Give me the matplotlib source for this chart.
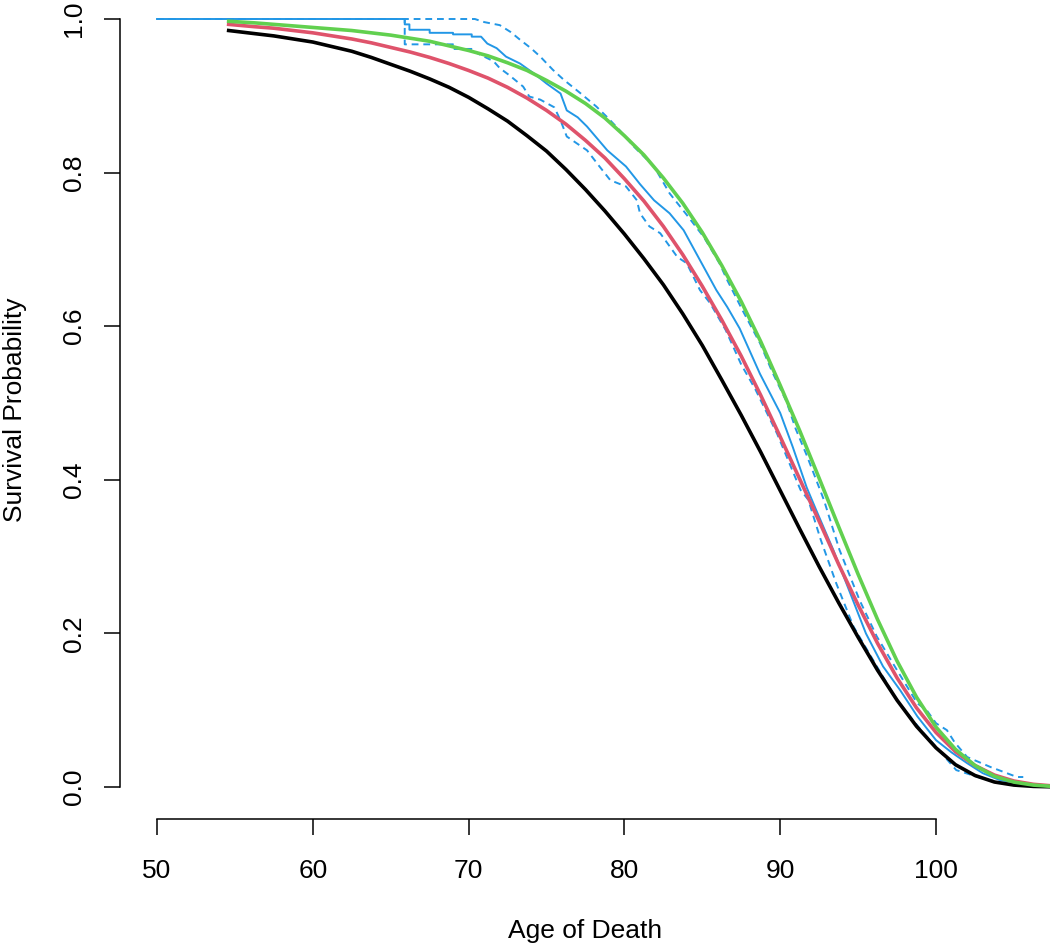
import matplotlib
matplotlib.use("Agg")
import matplotlib.pyplot as plt

plt.rcParams['font.family'] = ['Liberation Sans', 'DejaVu Sans']

# ---- data ----
ages_fit = [54.6, 56.25, 57.5, 58.75, 60, 61.25, 62.5, 63.75, 65, 66.25, 67.5,
            68.75, 70, 71.25, 72.5, 73.75, 75, 76.25, 77.5, 78.75, 80, 81.25,
            82.5, 83.75, 85, 86.25, 87.5, 88.75, 90, 91.25, 92.5, 93.75, 95,
            96.25, 97.5, 98.75, 100, 101.25, 102.5, 103.75, 105, 106.25, 107.3]
surv_black = [0.985, 0.981, 0.978, 0.974, 0.970, 0.964, 0.958, 0.950, 0.941,
              0.932, 0.922, 0.911, 0.898, 0.883, 0.867, 0.848, 0.828, 0.804,
              0.778, 0.750, 0.720, 0.688, 0.654, 0.616, 0.575, 0.530, 0.484,
              0.436, 0.386, 0.336, 0.287, 0.240, 0.195, 0.152, 0.113, 0.079,
              0.051, 0.029, 0.015, 0.0065, 0.0025, 0.0008, 0.0003]
surv_red = [0.993, 0.990, 0.988, 0.985, 0.982, 0.978, 0.974, 0.969, 0.963,
            0.957, 0.950, 0.942, 0.933, 0.923, 0.911, 0.897, 0.881, 0.863,
            0.842, 0.819, 0.792, 0.763, 0.730, 0.693, 0.652, 0.608, 0.561,
            0.510, 0.456, 0.401, 0.346, 0.290, 0.237, 0.187, 0.142, 0.103,
            0.071, 0.046, 0.028, 0.0155, 0.0078, 0.0035, 0.0017]
surv_green = [0.997, 0.995, 0.993, 0.991, 0.989, 0.987, 0.985, 0.982, 0.979,
              0.975, 0.971, 0.965, 0.959, 0.952, 0.943, 0.933, 0.920, 0.906,
              0.890, 0.871, 0.848, 0.823, 0.793, 0.760, 0.722, 0.679, 0.632,
              0.580, 0.523, 0.464, 0.402, 0.339, 0.277, 0.218, 0.164, 0.117,
              0.078, 0.049, 0.028, 0.014, 0.0064, 0.0025, 0.001]

km_age = [50.0, 65.9, 65.9, 66.2, 66.2, 67.5, 67.5, 69.0, 69.0, 70.2, 70.2,
          70.8, 71.2, 71.8, 72.4, 73.3, 74.2, 75.0, 75.9, 76.3, 77.0, 77.6,
          78.9, 80.1, 81.0, 81.9, 82.9, 83.8, 84.85, 85.9, 86.6, 87.4, 88.7,
          90.0, 90.8, 91.7, 92.3, 93.4, 94.5, 95.5, 96.6, 97.7, 98.8, 100.0,
          101.0, 102.0, 103.0, 104.1, 105.2]
km_surv = [1.0, 1.0, 0.993, 0.993, 0.986, 0.986, 0.982, 0.982, 0.980, 0.980,
           0.977, 0.977, 0.968, 0.962, 0.951, 0.942, 0.929, 0.916, 0.903, 0.881,
           0.872, 0.860, 0.829, 0.808, 0.785, 0.764, 0.747, 0.725, 0.686, 0.647,
           0.625, 0.597, 0.538, 0.487, 0.443, 0.390, 0.361, 0.309, 0.252, 0.200,
           0.157, 0.126, 0.092, 0.061, 0.045, 0.031, 0.018, 0.009, 0.005]

up_age = [50.0, 70.4, 71.0, 72.0, 72.7, 73.3, 74.0, 74.6, 75.4, 76.1, 77.2,
          78.2, 79.0, 79.7, 80.6, 81.9, 82.9, 84.0, 85.1, 86.1, 86.6, 87.6,
          88.7, 89.5, 90.4, 91.0, 91.7, 92.8, 93.8, 95.1, 96.2, 97.5, 98.8,
          99.4, 100.0, 100.7, 101.2, 102.0, 103.5, 105.2, 105.6]
up_surv = [1.0, 1.0, 0.996, 0.992, 0.983, 0.973, 0.962, 0.951, 0.934, 0.921,
           0.903, 0.886, 0.870, 0.855, 0.834, 0.808, 0.773, 0.745, 0.716, 0.682,
           0.660, 0.620, 0.578, 0.540, 0.502, 0.466, 0.432, 0.374, 0.309, 0.243,
           0.196, 0.152, 0.109, 0.100, 0.083, 0.074, 0.058, 0.039, 0.026, 0.013,
           0.013]

lo_age = [50.0, 65.9, 65.9, 69.0, 69.0, 70.4, 70.4, 71.6, 72.0, 72.6, 73.5,
          73.9, 74.6, 75.5, 75.9, 76.3, 77.6, 78.4, 79.1, 80.1, 80.8, 81.0,
          81.6, 82.3, 83.4, 84.0, 84.85, 85.5, 86.5, 87.5, 88.4, 89.8, 91.3,
          91.8, 92.6, 93.6, 94.7, 96.2, 97.5, 99.2, 99.8, 101.3, 103.0, 104.6,
          105.2]
lo_surv = [1.0, 1.0, 0.967, 0.967, 0.961, 0.961, 0.957, 0.945, 0.936, 0.927,
           0.912, 0.899, 0.895, 0.885, 0.868, 0.847, 0.829, 0.808, 0.790, 0.782,
           0.764, 0.747, 0.730, 0.721, 0.690, 0.682, 0.647, 0.630, 0.595, 0.550,
           0.518, 0.460, 0.387, 0.374, 0.322, 0.265, 0.209, 0.157, 0.113, 0.070,
           0.057, 0.022, 0.011, 0.004, 0.004]

x_ticks = [50, 60, 70, 80, 90, 100]
y_ticks = [0.0, 0.2, 0.4, 0.6, 0.8, 1.0]
y_tick_labels = ["0.0", "0.2", "0.4", "0.6", "0.8", "1.0"]

BLUE = "#2297E6"
RED = "#DF536B"
GREEN = "#61D04F"

fig = plt.figure(figsize=(10.5, 9.46), dpi=100)
ax = fig.add_axes([120 / 1050, (946 - 819) / 946, 930 / 1050, 819 / 946])

ax.plot(km_age, km_surv, color=BLUE, lw=1.4)
ax.plot(up_age, up_surv, color=BLUE, lw=1.4, linestyle=(0, (3.5, 2.5)))
ax.plot(lo_age, lo_surv, color=BLUE, lw=1.4, linestyle=(0, (3.5, 2.5)))
ax.plot(ages_fit, surv_black, color='black', lw=2.6)
ax.plot(ages_fit, surv_red, color=RED, lw=2.6)
ax.plot(ages_fit, surv_green, color=GREEN, lw=2.6)

ax.set_xlim(47.625, 107.316)
ax.set_ylim(-0.04167, 1.02474)

for s in ['top', 'right']:
    ax.spines[s].set_visible(False)
ax.spines['bottom'].set_bounds(50, 100)
ax.spines['left'].set_bounds(0, 1)
for s in ['bottom', 'left']:
    ax.spines[s].set_linewidth(1.1)

ax.set_xticks(x_ticks)
ax.set_xticklabels([str(v) for v in x_ticks])
ax.set_yticks(y_ticks)
ax.set_yticklabels(y_tick_labels, rotation=90, va='center')
ax.tick_params(axis='both', direction='out', length=11.5, width=1.1,
               labelsize=19)
ax.tick_params(axis='x', pad=17)
ax.tick_params(axis='y', pad=13)

ax.set_xlabel("Age of Death", fontsize=19, labelpad=26)
ax.set_ylabel("Survival Probability", fontsize=19, labelpad=25)

fig.savefig("out.png", dpi=100)
